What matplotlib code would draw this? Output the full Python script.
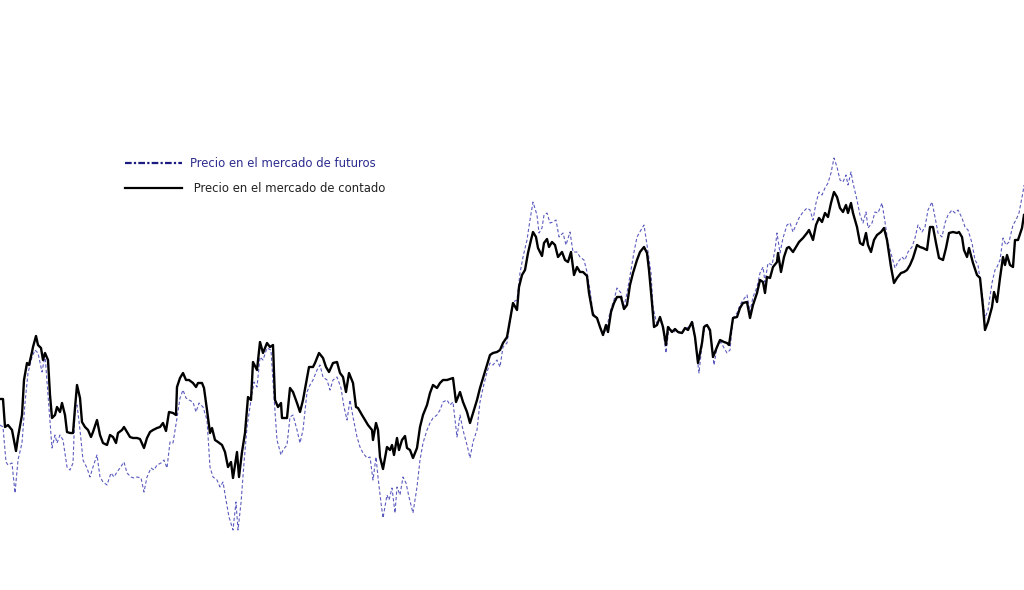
import matplotlib
matplotlib.use('Agg')
import matplotlib.pyplot as plt
from matplotlib.lines import Line2D

# Precio en el mercado de contado (dia, precio)
dias_contado = [0, 3, 5, 8, 12, 16, 18, 22, 24, 27, 29, 32, 33, 36, 38, 41, 43, 45, 48, 50,
                52, 55, 57, 60, 62, 65, 67, 70, 73, 75, 77, 80, 82, 85, 88, 91, 93, 97, 100, 103,
                107, 110, 113, 116, 118, 122, 124, 127, 130, 133, 137, 140, 144, 147, 150, 153, 157, 160, 163, 166,
                169, 173, 176, 177, 180, 183, 186, 189, 193, 196, 198, 202, 204, 207, 210, 212, 215, 218, 222, 225,
                228, 231, 233, 237, 239, 242, 245, 248, 251, 253, 257, 260, 263, 267, 270, 273, 275, 278, 281, 282,
                287, 290, 293, 297, 300, 303, 307, 309, 313, 315, 319, 323, 326, 329, 333, 337, 340, 343, 346, 349,
                353, 356, 358, 362, 365, 368, 372, 373, 376, 378, 380, 383, 387, 390, 392, 394, 397, 399, 402, 405,
                407, 410, 413, 417, 420, 423, 427, 430, 433, 437, 440, 443, 447, 450, 453, 456, 460, 463, 467, 470,
                473, 477, 480, 483, 487, 490, 493, 497, 500, 503, 507, 510, 513, 517, 519, 522, 525, 528, 531, 533,
                536, 538, 542, 544, 547, 549, 552, 555, 558, 562, 565, 568, 571, 574, 577, 580, 583, 587, 589, 593,
                597, 600, 603, 606, 608, 611, 614, 617, 621, 624, 627, 630, 633, 637, 640, 644, 647, 649, 652, 654,
                657, 660, 663, 666, 668, 672, 675, 678, 682, 685, 688, 692, 695, 698, 702, 704, 707, 710, 713, 717,
                720, 724, 727, 729, 733, 737, 740, 743, 747, 750, 753, 757, 760, 763, 765, 767, 770, 773, 777, 778,
                781, 784, 787, 789, 793, 796, 799, 803, 807, 809, 813, 816, 819, 822, 825, 828, 831, 834, 837, 840,
                843, 846, 848, 851, 853, 857, 860, 863, 866, 868, 871, 874, 877, 881, 884, 887, 891, 894, 897, 901,
                904, 907, 910, 913, 917, 920, 923, 927, 930, 933, 936, 939, 943, 946, 949, 953, 957, 959, 962, 964,
                967, 969, 973, 977, 980, 983, 985, 988, 992, 994, 997, 1000, 1003, 1005, 1007, 1010, 1013, 1015, 1018, 1022,
                1024]
precio_contado = [191, 191, 163, 165, 160, 139, 153, 175, 210, 227, 225, 238, 243, 254, 245, 242, 230, 237, 230, 195,
                  172, 175, 183, 178, 187, 175, 158, 157, 157, 182, 205, 192, 168, 163, 160, 153, 158, 170, 155, 147,
                  145, 155, 153, 147, 157, 160, 163, 158, 153, 152, 152, 151, 142, 152, 158, 160, 162, 163, 167, 159,
                  178, 177, 175, 203, 212, 217, 210, 210, 207, 203, 207, 207, 202, 180, 157, 162, 150, 148, 145, 138,
                  123, 128, 112, 138, 113, 138, 157, 193, 190, 228, 220, 248, 237, 247, 243, 245, 190, 183, 187, 172,
                  172, 202, 198, 187, 178, 190, 212, 223, 223, 227, 237, 232, 223, 218, 227, 228, 217, 213, 198, 217,
                  207, 183, 182, 175, 170, 165, 160, 150, 167, 160, 133, 121, 143, 140, 145, 135, 152, 140, 150, 154,
                  142, 140, 132, 142, 163, 175, 185, 197, 205, 202, 207, 210, 210, 211, 212, 188, 198, 188, 178, 167,
                  177, 190, 202, 212, 225, 235, 237, 238, 240, 247, 253, 270, 287, 280, 303, 315, 320, 337, 350, 358,
                  353, 342, 334, 347, 351, 343, 348, 345, 333, 338, 330, 328, 338, 315, 323, 318, 318, 314, 297, 275,
                  272, 263, 255, 265, 258, 278, 287, 293, 293, 281, 285, 305, 317, 330, 338, 343, 337, 320, 287, 263,
                  265, 273, 263, 245, 263, 258, 261, 258, 257, 262, 260, 268, 253, 227, 247, 263, 265, 260, 233, 243,
                  250, 248, 247, 245, 272, 273, 282, 287, 288, 272, 285, 297, 310, 308, 297, 313, 312, 323, 328, 337,
                  318, 333, 342, 343, 338, 343, 348, 352, 357, 360, 350, 365, 372, 368, 377, 373, 387, 398, 393, 382,
                  378, 385, 377, 387, 377, 363, 347, 345, 357, 345, 338, 350, 355, 358, 362, 350, 323, 307, 312, 317,
                  318, 320, 325, 332, 345, 343, 342, 340, 363, 363, 347, 332, 330, 342, 357, 358, 357, 358, 353, 340,
                  333, 342, 327, 315, 312, 283, 260, 268, 283, 298, 288, 312, 333, 325, 335, 325, 323, 350, 350, 362,
                  375]

# Precio en el mercado de futuros (dia, precio)
dias_futuros = [0, 3, 6, 8, 12, 15, 18, 22, 25, 28, 32, 35, 38, 42, 45, 48, 52, 55, 57, 60,
                63, 67, 70, 73, 75, 77, 80, 83, 87, 90, 93, 97, 100, 103, 107, 111, 114, 117, 120, 124,
                127, 131, 134, 137, 141, 144, 147, 151, 154, 157, 161, 164, 167, 170, 173, 177, 180, 183, 186, 189,
                193, 196, 199, 203, 207, 210, 213, 217, 220, 223, 226, 229, 233, 236, 238, 241, 244, 247, 251, 254,
                257, 260, 263, 267, 271, 274, 277, 281, 283, 287, 290, 293, 297, 300, 303, 307, 310, 313, 317, 320,
                323, 327, 330, 333, 337, 341, 344, 347, 350, 353, 357, 360, 363, 367, 370, 373, 376, 378, 381, 383,
                387, 389, 392, 395, 397, 400, 403, 406, 409, 413, 417, 420, 423, 427, 430, 433, 437, 440, 443, 447,
                450, 453, 457, 460, 463, 467, 470, 473, 477, 480, 483, 487, 490, 493, 497, 500, 503, 507, 510, 513,
                517, 520, 523, 527, 530, 533, 537, 539, 542, 544, 547, 550, 553, 556, 559, 563, 566, 570, 573, 577,
                580, 584, 587, 590, 593, 597, 600, 603, 607, 610, 614, 617, 621, 624, 627, 631, 634, 637, 641, 644,
                647, 651, 653, 657, 660, 663, 666, 669, 673, 676, 679, 683, 686, 689, 693, 696, 699, 702, 705, 708,
                711, 714, 717, 721, 724, 727, 730, 733, 737, 740, 743, 747, 750, 753, 757, 760, 763, 765, 768, 772,
                775, 777, 780, 783, 787, 790, 793, 796, 799, 803, 807, 810, 813, 816, 819, 822, 825, 828, 831, 834,
                837, 840, 843, 846, 848, 851, 853, 857, 860, 863, 866, 868, 872, 875, 878, 882, 885, 888, 892, 895,
                898, 902, 905, 908, 912, 915, 918, 922, 925, 928, 932, 935, 938, 942, 945, 948, 952, 955, 958, 962,
                965, 968, 972, 975, 978, 982, 985, 988, 992, 995, 997, 1000, 1003, 1006, 1009, 1013, 1016, 1019, 1023, 1024]
precio_futuros = [165, 163, 128, 125, 127, 97, 130, 147, 187, 217, 233, 240, 237, 218, 235, 195, 142, 155, 147, 155,
                  150, 123, 120, 127, 180, 185, 160, 130, 122, 113, 123, 135, 113, 108, 105, 117, 113, 118, 122, 128,
                  117, 113, 112, 113, 112, 98, 113, 122, 120, 125, 127, 130, 122, 148, 147, 172, 192, 200, 192, 190,
                  188, 178, 187, 183, 170, 123, 113, 110, 103, 108, 90, 73, 60, 88, 60, 87, 127, 163, 190, 208,
                  203, 233, 230, 242, 240, 193, 150, 135, 140, 145, 173, 175, 160, 147, 160, 198, 205, 210, 220, 225,
                  213, 210, 200, 210, 213, 202, 183, 170, 190, 173, 153, 143, 137, 132, 133, 110, 133, 113, 87, 72,
                  95, 90, 102, 77, 103, 95, 113, 107, 93, 77, 103, 130, 147, 160, 167, 172, 175, 180, 188, 190,
                  185, 188, 153, 175, 160, 145, 132, 148, 160, 188, 202, 218, 227, 225, 230, 223, 243, 247, 267, 288,
                  290, 317, 333, 350, 370, 388, 375, 357, 362, 375, 377, 367, 368, 370, 353, 357, 345, 358, 338, 338,
                  333, 330, 318, 300, 277, 272, 263, 255, 263, 278, 290, 302, 297, 283, 297, 320, 338, 353, 360, 365,
                  345, 317, 283, 265, 273, 260, 237, 263, 257, 260, 257, 258, 262, 263, 267, 243, 217, 245, 265, 263,
                  253, 225, 243, 248, 242, 237, 240, 272, 277, 285, 290, 295, 278, 293, 303, 317, 323, 308, 327, 325,
                  340, 357, 337, 352, 365, 367, 358, 365, 372, 378, 382, 380, 370, 387, 398, 395, 402, 407, 417, 432,
                  423, 410, 408, 415, 405, 418, 407, 390, 375, 367, 378, 362, 367, 378, 377, 387, 368, 347, 333, 322,
                  328, 333, 330, 338, 343, 352, 365, 358, 363, 380, 388, 373, 357, 353, 367, 375, 380, 377, 380, 372,
                  363, 360, 347, 330, 325, 297, 272, 280, 307, 320, 323, 330, 352, 345, 348, 365, 370, 377, 398, 405]

fig = plt.figure(figsize=(10.24, 5.9), dpi=100)
ax = fig.add_axes([0, 0, 1, 1])

# futuros: linea discontinua azul, contado: linea negra continua
ax.plot(dias_futuros, precio_futuros, color='#4a4ab8', lw=0.8, ls=(0, (3, 2)), alpha=0.9)
ax.plot(dias_contado, precio_contado, color='black', lw=1.7)

ax.set_xlim(0, 1024)
ax.set_ylim(0, 590)
ax.axis('off')

handles = [Line2D([], [], color='#1c1c80', lw=1.6, ls=(0, (3, 1, 1, 1))),
           Line2D([], [], color='black', lw=1.6)]
leg = ax.legend(handles, ['Precio en el mercado de futuros', ' Precio en el mercado de contado'],
                loc='upper left', bbox_to_anchor=(0.122, 0.734), frameon=False,
                fontsize=8.35, handlelength=4.9, handletextpad=0.75, labelspacing=1.04,
                borderpad=0, borderaxespad=0)
leg.get_texts()[0].set_color('#2c2c90')
leg.get_texts()[1].set_color('#222222')

fig.savefig('out.png', dpi=100)
